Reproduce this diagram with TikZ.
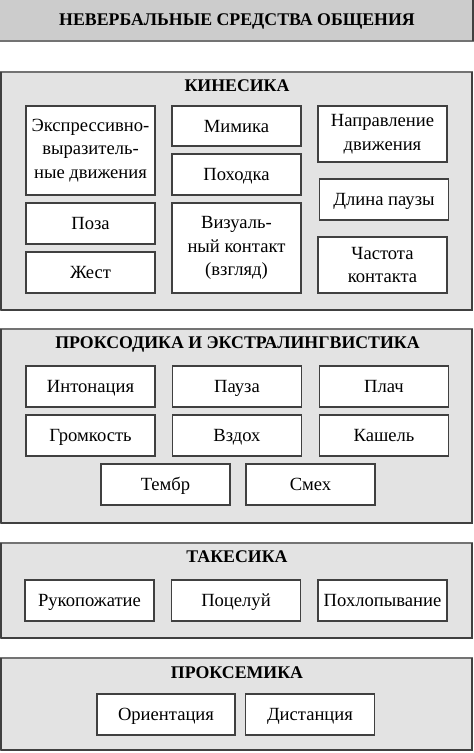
\documentclass[tikz,border=0pt]{standalone}
\usepackage{fontspec}
\setmainfont{Liberation Serif}
\definecolor{titlefill}{gray}{0.80}
\definecolor{secfill}{gray}{0.89}
\definecolor{edge}{gray}{0.25}
\definecolor{softedge}{gray}{0.45}
\tikzset{
  cellbase/.style={draw=edge, line width=1.3pt, fill=white, minimum width=129pt, minimum height=41pt, inner sep=1pt, align=center, font=\fontsize{18.6}{23.5}\selectfont},
  cell/.style={cellbase, text height=14.8pt, text depth=2.4pt},
  section/.style={draw=softedge, line width=1.3pt, fill=secfill},
  sectitle/.style={font=\bfseries\fontsize{17.8}{22}\selectfont, inner sep=0pt, text height=11.8pt, text depth=0pt},
}
\begin{document}
\begin{tikzpicture}[x=1pt,y=-1pt]
\useasboundingbox (0,0) rectangle (474,753);
% title bar
\draw[draw=softedge, line width=1.5pt, fill=titlefill] (-3,-3) rectangle (473,41);
\draw[edge, line width=1.5pt] (473,-3) -- (473,41);
\node[sectitle] (title) at (237,20) {НЕВЕРБАЛЬНЫЕ СРЕДСТВА ОБЩЕНИЯ};
% sections
\foreach \ya/\yb in {72/310, 329/523, 543/638, 658/750}{
  \draw[section] (1,\ya) rectangle (472,\yb);
  \draw[edge, line width=2.6pt] (1,\ya) -- (1,\yb);
  \draw[edge, line width=1.6pt] (1,\yb) -- (472,\yb) -- (472,\ya);
}
\node[sectitle] (kin) at (237,86) {КИНЕСИКА};
\node[sectitle] (pros) at (237.5,343) {ПРОКСОДИКА И ЭКСТРАЛИНГВИСТИКА};
\node[sectitle] (tak) at (237,557) {ТАКЕСИКА};
\node[sectitle] (prok) at (237,673) {ПРОКСЕМИКА};
% kinesika
\node[cellbase, minimum height=89pt] (expr) at (90.5,150.5) {Экспрессивно-\\выразитель-\\ные движения};
\node[cell] (poza) at (90.5,223.5) {Поза};
\node[cell] (zhest) at (90.5,272.5) {Жест};
\node[cell, minimum height=40pt] (mim) at (236.5,126) {Мимика};
\node[cell] (pokh) at (236.5,174.5) {Походка};
\node[cellbase, minimum height=90pt] (viz) at (236.5,248) {Визуаль-\\ный контакт\\(взгляд)};
\node[cellbase, minimum height=56pt] (napr) at (382.5,134) {Направление\\движения};
\node[cell] (dlina) at (384,199.5) {Длина паузы};
\node[cellbase, minimum height=56pt] (chast) at (382.5,265) {Частота\\контакта};
% prosodika
\node[cell] (inton) at (90.5,386.5) {Интонация};
\node[cell] (pauza) at (237,386.5) {Пауза};
\node[cell] (plach) at (384,386.5) {Плач};
\node[cell] (grom) at (90.5,435.5) {Громкость};
\node[cell] (vzdokh) at (237,435.5) {Вздох};
\node[cell] (kash) at (384,435.5) {Кашель};
\node[cell] (tembr) at (165.5,484.5) {Тембр};
\node[cell] (smekh) at (310.5,484.5) {Смех};
% takesika
\node[cell] (ruk) at (89.5,600.5) {Рукопожатие};
\node[cell] (poc) at (236,600.5) {Поцелуй};
\node[cell] (pokhl) at (382.5,600.5) {Похлопывание};
% proksemika
\node[cell, minimum width=138pt] (orient) at (166,714.5) {Ориентация};
\node[cell] (dist) at (310,714.5) {Дистанция};
\end{tikzpicture}
\end{document}
